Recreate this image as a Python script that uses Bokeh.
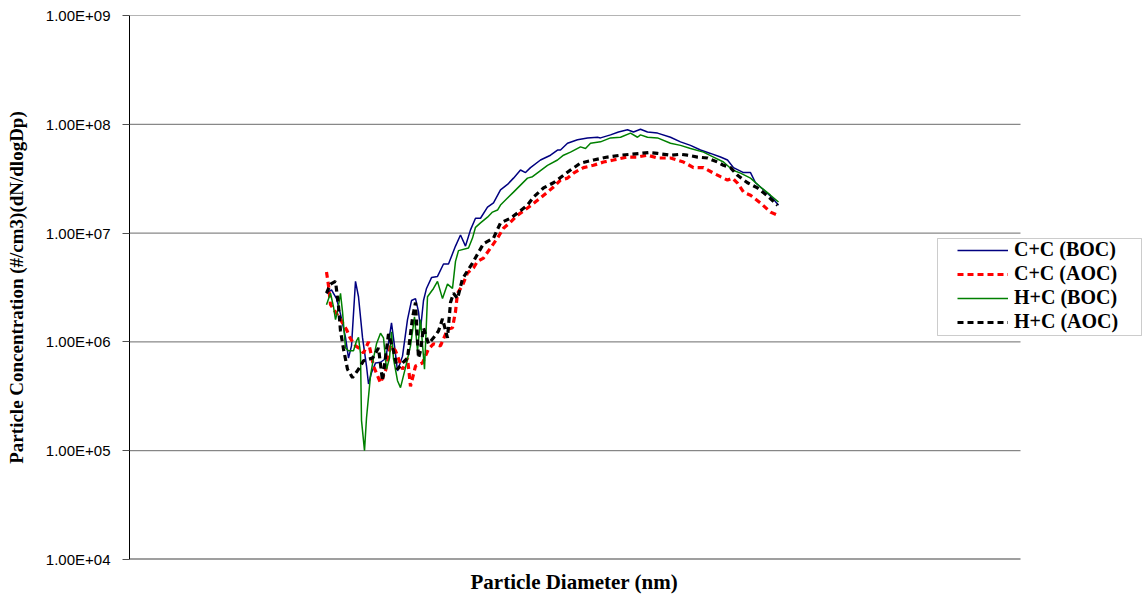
from bokeh.plotting import figure
from bokeh.models import (Range1d, FixedTicker, Legend, LegendItem, BoxAnnotation, Title)
from bokeh.embed import file_html
from bokeh.resources import INLINE

# ---------------- data ----------------
# x: size channel (no tick labels on the original axis)
cc_boc_x = [197, 202, 207, 211, 216, 219, 222, 226, 229, 233, 237, 239, 242, 246, 251, 256, 259, 262, 265, 268,
            273, 278, 282, 286, 289, 291, 294, 297, 302, 308, 314, 319, 326, 331, 336, 341, 346, 351, 358, 364,
            371, 378, 384, 391, 396, 401, 411, 421, 428, 431, 438, 448, 458, 468, 471, 481, 489, 498, 504, 511,
            518, 528, 541, 551, 561, 571, 581, 591, 598, 604, 614, 621, 626, 634, 643, 649]
cc_boc_y = [2.8e6, 3.0e6, 2.5e6, 1.8e6, 1.1e6, 7.1e5, 9.2e5, 3.6e6, 2.6e6, 1.1e6, 6.0e5, 4.1e5, 5.2e5, 6.4e5, 6.5e5,
            7.0e5, 9.8e5, 1.5e6, 9.2e5, 5.4e5, 7.4e5, 1.6e6, 2.4e6, 2.5e6, 1.9e6, 1.3e6, 2.4e6, 3.1e6, 3.9e6, 4.0e6,
            5.2e6, 5.2e6, 7.6e6, 9.6e6, 7.6e6, 1.07e7, 1.37e7, 1.37e7, 1.73e7, 1.9e7, 2.5e7, 2.8e7, 3.2e7, 3.8e7,
            3.6e7, 4.0e7, 4.7e7, 5.2e7, 5.8e7, 5.8e7, 6.7e7, 7.2e7, 7.5e7, 7.6e7, 7.5e7, 8.0e7, 8.5e7, 8.9e7,
            8.5e7, 9.0e7, 8.5e7, 8.3e7, 7.6e7, 6.9e7, 6.4e7, 5.8e7, 5.4e7, 5.0e7, 4.7e7, 4.0e7, 3.6e7, 3.6e7,
            2.9e7, 2.5e7, 2.1e7, 1.8e7]

cc_aoc_x = [197, 199, 201, 204, 211, 217, 221, 226, 231, 234, 239, 244, 251, 256, 261, 266, 273, 278, 281, 286,
            293, 299, 304, 311, 318, 323, 326, 328, 333, 338, 344, 348, 354, 361, 368, 374, 381, 388, 398, 408,
            418, 424, 431, 438, 444, 454, 464, 474, 484, 498, 508, 518, 528, 541, 554, 564, 574, 584, 591, 598,
            603, 608, 614, 621, 631, 641, 648]
cc_aoc_y = [4.4e6, 3.3e6, 2.2e6, 2.0e6, 1.6e6, 1.3e6, 1.07e6, 9.2e5, 8.6e5, 7.9e5, 1.0e6, 6.0e5, 4.2e5, 5.4e5, 9.2e5,
            8.3e5, 5.6e5, 7.1e5, 3.9e5, 6.0e5, 6.4e5, 8.6e5, 9.6e5, 9.2e5, 1.3e6, 1.35e6, 1.9e6, 2.8e6, 3.3e6, 4.3e6,
            4.8e6, 5.5e6, 5.9e6, 7.3e6, 9.0e6, 1.11e7, 1.26e7, 1.46e7, 1.7e7, 2.0e7, 2.38e7, 2.65e7, 3.07e7, 3.2e7,
            3.56e7, 4.0e7, 4.2e7, 4.5e7, 4.7e7, 5.0e7, 5.0e7, 5.2e7, 4.9e7, 4.9e7, 4.5e7, 4.0e7, 4.0e7, 3.56e7,
            3.3e7, 3.07e7, 3.2e7, 2.88e7, 2.38e7, 2.23e7, 1.89e7, 1.56e7, 1.46e7]

hc_boc_x = [197, 201, 204, 206, 208, 211, 213, 216, 219, 224, 227, 229, 231, 232, 235, 237, 241, 244, 247, 251,
            254, 257, 260, 262, 264, 268, 271, 276, 281, 285, 288, 291, 295, 298, 304, 308, 313, 318, 323, 326,
            329, 339, 343, 346, 351, 358, 363, 368, 371, 378, 384, 391, 398, 403, 409, 418, 428, 434, 441, 451,
            456, 461, 471, 481, 491, 501, 508, 511, 518, 528, 541, 551, 561, 574, 584, 594, 603, 611, 621, 631,
            641, 649]
hc_boc_y = [2.2e6, 2.8e6, 2.1e6, 1.6e6, 1.9e6, 2.8e6, 1.9e6, 8.8e5, 8.3e5, 8.3e5, 1.02e6, 1.1e6, 7.8e5, 1.9e5, 1.0e5,
            2.0e5, 4.9e5, 7.1e5, 9.6e5, 1.2e6, 1.09e6, 5.6e5, 7.1e5, 1.24e6, 7.0e5, 4.4e5, 3.8e5, 5.8e5, 9.2e5, 1.7e6,
            8.3e5, 1.6e6, 5.6e5, 2.6e6, 3.1e6, 3.6e6, 2.5e6, 3.4e6, 3.1e6, 5.5e6, 6.9e6, 7.3e6, 9.0e6, 1.13e7,
            1.24e7, 1.4e7, 1.56e7, 1.63e7, 1.81e7, 2.1e7, 2.38e7, 2.76e7, 3.2e7, 3.3e7, 3.64e7, 4.2e7, 4.7e7,
            5.2e7, 5.55e7, 6.2e7, 6.0e7, 6.7e7, 6.9e7, 7.5e7, 7.6e7, 8.3e7, 7.6e7, 8.0e7, 7.6e7, 7.5e7, 6.7e7,
            6.4e7, 6.0e7, 5.55e7, 5.0e7, 4.5e7, 3.8e7, 3.56e7, 3.2e7, 2.65e7, 2.23e7, 1.93e7]

hc_aoc_x = [197, 201, 206, 209, 211, 214, 218, 223, 229, 234, 243, 249, 253, 259, 264, 268, 273, 278, 283, 286,
            289, 291, 294, 299, 304, 309, 313, 318, 321, 324, 328, 333, 338, 343, 348, 354, 364, 371, 381, 388,
            398, 404, 414, 424, 434, 441, 451, 464, 478, 491, 501, 511, 519, 528, 541, 551, 558, 568, 578, 588,
            594, 601, 608, 618, 628, 638, 648]
hc_aoc_y = [2.8e6, 3.4e6, 3.6e6, 2.14e6, 1.26e6, 8.6e5, 5.6e5, 4.7e5, 5.6e5, 6.7e5, 7.1e5, 8.8e5, 4.4e5, 1.18e6, 8.3e5,
            5.6e5, 6.4e5, 7.1e5, 1.66e6, 2.3e6, 7.1e5, 8.3e5, 1.35e6, 9.6e5, 1.09e6, 1.26e6, 1.63e6, 1.09e6, 2.3e6,
            2.8e6, 2.5e6, 3.8e6, 4.5e6, 5.3e6, 6.4e6, 8.0e6, 9.0e6, 1.24e7, 1.37e7, 1.53e7, 1.81e7, 2.14e7, 2.6e7,
            2.9e7, 3.4e7, 3.8e7, 4.4e7, 4.7e7, 5.0e7, 5.2e7, 5.3e7, 5.4e7, 5.5e7, 5.4e7, 5.2e7, 5.3e7, 5.2e7,
            5.0e7, 4.9e7, 4.5e7, 4.2e7, 4.0e7, 3.4e7, 2.9e7, 2.6e7, 2.2e7, 1.8e7]

series_names = ["C+C (BOC)", "C+C (AOC)", "H+C (BOC)", "H+C (AOC)"]
y_ticks = [1e4, 1e5, 1e6, 1e7, 1e8, 1e9]
y_tick_labels = ["1.00E+04", "1.00E+05", "1.00E+06", "1.00E+07", "1.00E+08", "1.00E+09"]
x_title = "Particle Diameter (nm)"
y_title = "Particle Concentration (#/cm3)(dN/dlogDp)"
x_min, x_max = 0, 891          # extent of the plotting area (grid lines / axis line)

# ---------------- figure ----------------
# the frame is extended to the right edge so the legend (which overlaps the
# plot area in the original) is not clipped; grid lines stop at x_max.
p = figure(width=1142, height=602, y_axis_type="log",
           x_range=Range1d(x_min, 1013), y_range=Range1d(1e4, 1e9),
           output_backend="svg", toolbar_location=None,
           min_border_left=129, min_border_right=0, min_border_top=15, min_border_bottom=43)
p.outline_line_color = None
p.background_fill_color = "white"
p.border_fill_color = "white"
p.grid.visible = False

# horizontal grid lines (and bottom axis line) across the plotting area only
p.segment(x0=[x_min] * (len(y_ticks) - 1), x1=[x_max] * (len(y_ticks) - 1),
          y0=y_ticks[1:], y1=y_ticks[1:], line_color="#6b6b6b", line_width=1)
p.segment(x0=[x_min], x1=[x_max], y0=[y_ticks[0]], y1=[y_ticks[0]], line_color="#404040", line_width=2)

yax = p.yaxis[0]
yax.ticker = FixedTicker(ticks=y_ticks)
yax.major_label_overrides = dict(zip(y_ticks, y_tick_labels))
yax.major_label_text_font = "Liberation Sans"
yax.major_label_text_font_size = "15px"
yax.major_label_text_color = "black"
yax.major_label_standoff = 12
yax.major_tick_in = 0
yax.major_tick_out = 7
yax.major_tick_line_color = "#505050"
yax.minor_tick_line_color = None
yax.axis_line_color = "black"
yax.axis_label = y_title
yax.axis_label_text_font = "Liberation Serif"
yax.axis_label_text_font_style = "bold"
yax.axis_label_text_font_size = "19px"
yax.axis_label_text_color = "black"
yax.axis_label_standoff = 16

p.xaxis.visible = False
xt = Title(text=x_title, align="left", offset=341, standoff=17,
           text_font="Liberation Serif", text_font_style="bold", text_font_size="21px",
           text_color="black")
p.add_layout(xt, "below")

r1 = p.line(cc_boc_x, cc_boc_y, line_color="#000080", line_width=1.5)
r2 = p.line(cc_aoc_x, cc_aoc_y, line_color="#ff0000", line_width=3.2, line_dash="6 4")
r3 = p.line(hc_boc_x, hc_boc_y, line_color="#008000", line_width=1.5)
r4 = p.line(hc_aoc_x, hc_aoc_y, line_color="black", line_width=3.2, line_dash="6 4")

box = BoxAnnotation(left=808, right=1012, bottom=224, top=321,
                    left_units="screen", right_units="screen", top_units="screen", bottom_units="screen",
                    fill_color="white", fill_alpha=1.0, line_color="#555555", line_width=1)
p.add_layout(box)

legend = Legend(items=[LegendItem(label=n, renderers=[r]) for n, r in zip(series_names, [r1, r2, r3, r4])],
                location=(828, 226))
legend.label_text_font = "Liberation Serif"
legend.label_text_font_style = "bold"
legend.label_text_font_size = "20px"
legend.label_text_color = "black"
legend.glyph_width = 51
legend.glyph_height = 22
legend.label_height = 22
legend.label_standoff = 6
legend.spacing = 1
legend.padding = 2
legend.margin = 0
legend.border_line_color = None
legend.background_fill_alpha = 0
p.add_layout(legend)

open("out.html", "w").write(file_html(p, INLINE))
